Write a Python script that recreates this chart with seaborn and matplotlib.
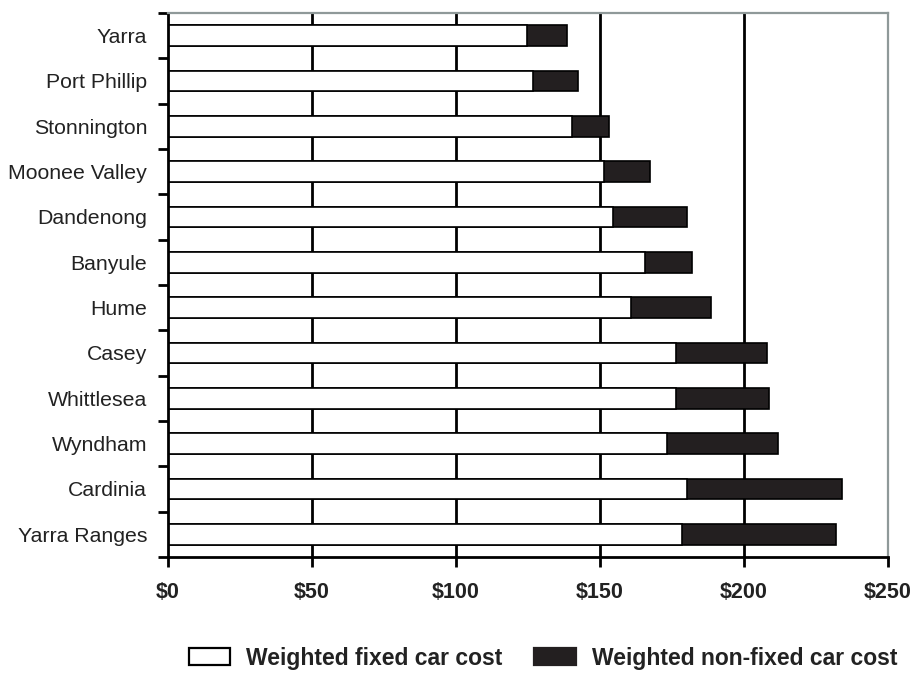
import matplotlib
matplotlib.use("Agg")
import matplotlib.pyplot as plt
from matplotlib.patches import Patch
from matplotlib.ticker import FixedLocator
import numpy as np
import pandas as pd
import seaborn as sns

# Weekly car cost by municipality ($)
councils = ["Yarra", "Port Phillip", "Stonnington", "Moonee Valley", "Dandenong",
            "Banyule", "Hume", "Casey", "Whittlesea", "Wyndham", "Cardinia",
            "Yarra Ranges"]
fixed_cost = [124.7, 126.9, 140.3, 151.3, 154.4, 165.5, 160.8, 176.4, 176.4,
              173.2, 180.1, 178.4]
non_fixed_cost = [13.7, 15.3, 12.8, 15.9, 25.7, 16.4, 27.8, 31.5, 32.4,
                  38.5, 53.8, 53.5]
x_ticks = [0, 50, 100, 150, 200, 250]
x_tick_labels = ["$0", "$50", "$100", "$150", "$200", "$250"]

df = pd.DataFrame({"council": councils, "fixed": fixed_cost,
                   "non_fixed": non_fixed_cost})
df["total"] = df["fixed"] + df["non_fixed"]

sns.set_theme(style="white")
plt.rcParams["font.family"] = ["Liberation Sans", "DejaVu Sans"]

DARK = "#231f20"
GREY_FRAME = "#8f9999"

fig = plt.figure(figsize=(9.14, 6.73), dpi=100)
ax = fig.add_axes([0.1838, 0.1724, 0.9716 - 0.1838, 0.9807 - 0.1724])

# stacked bars: full total in dark, fixed share overlaid in white
sns.barplot(data=df, x="total", y="council", orient="h", color=DARK,
            saturation=1, width=0.46, edgecolor="black", linewidth=1.2,
            ax=ax, zorder=3)
sns.barplot(data=df, x="fixed", y="council", orient="h", color="white",
            saturation=1, width=0.46, edgecolor="black", linewidth=1.2,
            ax=ax, zorder=4)

ax.set_xlim(0, 250)
ax.set_ylim(len(councils) - 0.5, -0.5)
ax.set_xlabel("")
ax.set_ylabel("")

# vertical reference lines behind the bars
for xv in x_ticks[1:-1]:
    ax.axvline(xv, color="black", lw=2, zorder=1)

ax.set_xticks(x_ticks)
ax.set_xticklabels(x_tick_labels, fontsize=15.5, fontweight="bold", color="#222222")
ax.tick_params(axis="x", which="major", direction="out", length=7, width=2,
               color="black", pad=11, bottom=True)

ax.yaxis.set_minor_locator(FixedLocator(np.arange(-0.5, len(councils), 1.0)))
ax.tick_params(axis="y", which="major", length=0, pad=15, labelsize=15.3,
               labelcolor="#222222")
ax.tick_params(axis="y", which="minor", direction="out", length=7, width=2,
               color="black", left=True)

for side in ("left", "bottom"):
    ax.spines[side].set_color("black")
    ax.spines[side].set_linewidth(2)
for side in ("top", "right"):
    ax.spines[side].set_color(GREY_FRAME)
    ax.spines[side].set_linewidth(1.6)
for sp in ax.spines.values():
    sp.set_zorder(5)

handles = [Patch(facecolor="white", edgecolor="black", linewidth=1.6,
                 label="Weighted fixed car cost"),
           Patch(facecolor=DARK, edgecolor=DARK, linewidth=1.6,
                 label="Weighted non-fixed car cost")]
fig.legend(handles=handles, loc="center", bbox_to_anchor=(0.594, 0.022),
           ncol=2, frameon=False, handlelength=1.8, handleheight=0.8,
           handletextpad=0.7, columnspacing=1.4,
           prop={"size": 16.5, "weight": "bold"}, labelcolor="#222222")

fig.savefig("out.png", dpi=100)
